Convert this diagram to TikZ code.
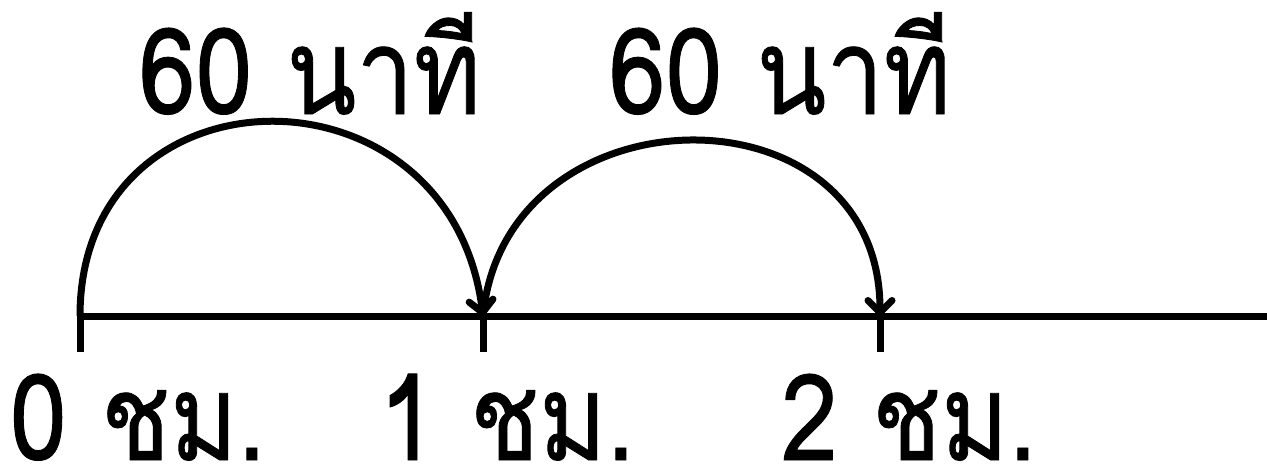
\documentclass[tikz,border=0pt]{standalone}
\usepackage{fontspec}
\usetikzlibrary{arrows.meta, positioning}
\newfontfamily\thaifont[Script=Thai, FakeStretch=0.85, FakeBold=0.7]{Loma}

\begin{document}
\begin{tikzpicture}[
  x=0.5pt, y=-0.5pt,
  axis/.style={line width=3.5pt, black},
  jump/.style={line width=3.5pt, black,
               -{Straight Barb[length=6pt, width=12pt, round]}},
  lbl/.style={font=\thaifont\fontsize{60}{62}\selectfont,
              anchor=base, inner sep=0pt, text depth=0pt},
]
  \useasboundingbox (0,0) rectangle (1267,471);

  \coordinate (t0)  at (80,316);
  \coordinate (t1)  at (483,316);
  \coordinate (t2)  at (880,316);
  \coordinate (end) at (1267,316);

  % number line and ticks
  \draw[axis] (t0) -- (end);
  \foreach \t in {t0,t1,t2}
    \draw[axis] (\t) -- ++(0,36);

  % jumps
  \draw[jump] (t0) .. controls (80,60) and (450,55) .. (t1);
  \draw[jump] (t1) .. controls (505,85) and (880,80) .. (t2);

  \node[lbl] (min1) at (310,114) {60 นาที};
  \node[lbl] (min2) at (780,114) {60 นาที};

  \node[lbl] (h0) at (138,460) {0 ชม.};
  \node[lbl] (h1) at (507,460) {1 ชม.};
  \node[lbl] (h2) at (909,460) {2 ชม.};
\end{tikzpicture}
\end{document}
